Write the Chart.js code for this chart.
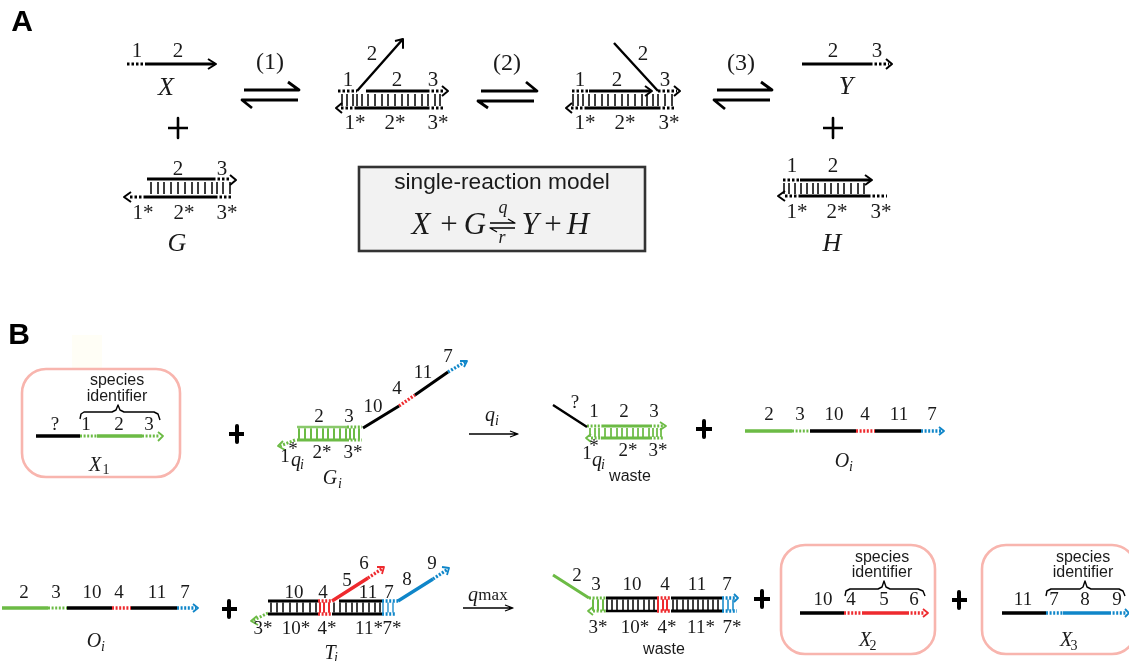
<!DOCTYPE html>
<html>
<head>
<meta charset="utf-8">
<title>Strand displacement</title>
<script src="https://cdn.jsdelivr.net/npm/chart.js@4"></script>
<style>
html, body { margin: 0; padding: 0; background: #fff; overflow: hidden; }
canvas { display: block; }
</style>
</head>
<body>
<canvas id="diagram" width="1129" height="661"></canvas>
<script>
const blackSolid = [
    // panel A
    [[145,64],[215,64]],
    [[147,179],[213,179]], [[145,197],[215,197]],
    [[366,91],[427,91]], [[357,108],[427,108]],
    [[589,91],[651,91]], [[587,108],[658,108]],
    [[802,64],[870,64]],
    [[800,180],[871,180]], [[800,196],[868,196]],
    // panel B duplexes
    [[363,428],[399,406]], [[415,395],[448,372]],
    [[268,601],[318,601]], [[339,601],[382,601]], [[268,614],[318,614]], [[332,614],[382,614]],
    [[606,598],[657,598]], [[671,598],[722,598]], [[671,611],[722,611]]
];
const blackThick = [
    [[36,436],[80,436]],
    [[810,431],[856,431]], [[875,431],[921,431]],
    [[67,608],[112,608]], [[131,608],[177,608]],
    [[800,613],[844,613]], [[1002,613],[1046,613]]
];
const blackHeads = [
    [[208,59],[216,64],[208,69]],
    [[230,175],[236,180],[230,185]], [[131,192],[124,197],[131,202]],
    [[395,41],[403,39],[403,48]],
    [[442,86],[448,91],[442,96]], [[342,103],[336,108],[342,113]],
    [[645,86],[652,91],[645,96]],
    [[674,86],[680,91],[674,96]], [[572,103],[566,108],[572,113]],
    [[886,59],[892,64],[886,69]],
    [[865,175],[872,180],[865,185]], [[785,191],[778,196],[785,201]]
];
const blackThin = [
    [[357,91],[403,39]], [[614,43],[658,91]],
    [[553,405],[587,427]], [[606,611],[657,611]]
];
const blackDotted = [
    [[127,64],[145,64]],
    [[213,179],[231,179]], [[130,197],[145,197]], [[215,197],[233,197]],
    [[338,91],[357,91]], [[427,91],[445,91]], [[341,108],[357,108]], [[427,108],[443,108]],
    [[572,91],[589,91]], [[658,91],[677,91]], [[571,108],[587,108]], [[658,108],[675,108]],
    [[870,64],[889,64]],
    [[783,180],[800,180]], [[785,196],[800,196]], [[868,196],[887,196]]
];
const greenSolid = [
    [[297,440],[347,440]],
    [[602,426],[650,426]], [[601,438],[650,438]],
    [[553,575],[589,598]]
];
const greenThick = [
    [[97,436],[142,436]], [[745,431],[792,431]], [[2,608],[48,608]]
];
const greenHeads = [
    [[158,432],[163,436],[158,441]],
    [[283,441],[278,446],[285,450]], [[257,616],[251,621],[258,625]],
    [[660,422],[666,426],[660,430]], [[591,434],[586,438],[591,442]],
    [[593,607],[588,611],[593,615]]
];
const greenLight = [ [[297,427],[347,427]] ];
const greenDotted = [
    [[80,436],[97,436]], [[142,436],[160,436]],
    [[347,427],[362,427]], [[347,440],[362,440]], [[295,440],[280,446]],
    [[587,426],[602,426]], [[650,426],[664,426]], [[591,438],[602,438]], [[650,438],[663,438]],
    [[792,431],[810,431]],
    [[48,608],[67,608]],
    [[268,613],[252,621]],
    [[589,598],[606,598]], [[593,611],[606,611]]
];
const redSolid = [ [[332,601],[368,578]], [[863,613],[907,613]] ];
const redHeads = [ [[923,609],[928,613],[923,617]], [[377,567],[384,567],[382,574]] ];
const redDotted = [
    [[399,406],[415,395]],
    [[856,431],[875,431]], [[112,608],[131,608]],
    [[318,601],[332,601]], [[318,614],[332,614]], [[368,578],[383,568]],
    [[657,598],[671,598]], [[657,611],[671,611]],
    [[844,613],[863,613]], [[907,613],[925,613]]
];
const blueSolid = [ [[398,601],[433,579]], [[1063,613],[1109,613]] ];
const blueHeads = [
    [[460,361],[467,361],[464,367]],
    [[939,427],[944,431],[939,435]], [[193,604],[198,608],[193,612]],
    [[442,567],[449,568],[447,575]],
    [[734,594],[738,598],[734,602]],
    [[1125,609],[1129,613],[1125,617]]
];
const blueDotted = [
    [[448,372],[465,362]],
    [[921,431],[941,431]], [[177,608],[196,608]],
    [[382,601],[398,601]], [[382,614],[395,614]], [[433,579],[448,569]],
    [[722,598],[736,598]], [[722,611],[737,611]],
    [[1046,613],[1063,613]], [[1109,613],[1127,613]]
];

// exchange arrows and plain reaction arrows
const equilibriumArrows = [
    [[244,90],[299,90],[288,82]], [[298,100],[242,100],[252,108]],
    [[481,91],[537,91],[526,82]], [[534,101],[478,101],[488,108]],
    [[717,90],[772,90],[761,82]], [[770,100],[714,100],[725,109]]
];
const thinArrows = [
    [[469,434],[518,434]], [[510,431],[518,434],[510,437]],
    [[463,608],[513,608]], [[505,605],[513,608],[505,611]],
    [[490,223],[515,223],[508,219]], [[515,228],[490,228],[497,232]]
];
const plusThin = [
    [[168,128],[188,128]], [[178,118],[178,138]],
    [[823,128],[843,128]], [[833,118],[833,138]]
];
const plusBold = [
    [[229,434],[244,434]], [[237,426],[237,442]],
    [[696,429],[712,429]], [[704,421],[704,437]],
    [[222,609],[237,609]], [[229,601],[229,617]],
    [[754,599],[770,599]], [[762,591],[762,607]],
    [[952,600],[967,600]], [[959,592],[959,608]]
];
const braces = [
    [[80,419],[81,414],[84,412],[112,412],[116,410],[118,405],[120,410],[124,412],[154,412],[158,414],[160,420]],
    [[845,596],[846,591],[850,589],[878,589],[882,587],[884,581],[886,587],[890,589],[918,589],[923,591],[925,596]],
    [[1046,596],[1047,591],[1051,589],[1080,589],[1083,587],[1085,581],[1087,587],[1091,589],[1119,589],[1123,591],[1125,596]]
];

// base-pair rungs: x positions per duplex
const rungsG = [151,158,164,171,178,185,192,198,205,212,217,223,230];
const rungsInter1 = [342,347,353,357,362,368,375,382,388,395,402,408,415,422,428,435,440];
const rungsInter2 = [573,578,583,589,595,602,608,615,622,628,635,642,647,653,658,665,672];
const rungsH = [784,789,795,801,807,813,818,825,831,838,844,851,858,864];
const rungsGi = [299,305,311,317,323,328,334,340,346,350,354,359];
const rungsWaste1 = [590,595,599,605,611,617,622,627,633,638,643,649,653,657,661];
const rungsTiBlack = [271,277,283,290,297,303,310,316,334,340,346,352,357,363,369,375,380];
const rungsTiRed = [320,324,329];
const rungsTiBlue = [383,388,393];
const rungsWaste2Green = [593,598,603];
const rungsWaste2Black = [607,612,617,623,628,633,638,644,649,654,673,677,683,688,693,698,703,708,713,718];
const rungsWaste2Red = [658,663,667];
const rungsWaste2Blue = [723,728,733];

// labels: [text, x, y]
const panelLetters = [['A',22,22],['B',19,335]];
const numbersLarge = [
    ['1',137,50],['2',178,50],['2',178,168],['3',222,168],['1*',143,212],['2*',184,212],['3*',227,212],
    ['2',372,53],['1',348,79],['2',397,79],['3',433,79],['1*',355,122],['2*',395,122],['3*',438,122],
    ['2',643,53],['1',580,79],['2',617,79],['3',665,79],['1*',585,122],['2*',625,122],['3*',669,122],
    ['2',833,50],['3',877,50],['1',792,165],['2',833,165],['1*',797,211],['2*',837,211],['3*',881,211]
];
const stepLabels = [['(1)',270,62],['(2)',507,63],['(3)',741,63]];
const italicLarge = [['X',166,87],['G',177,243],['Y',846,86],['H',832,243]];
const equationItalic = [['X',421,225],['G',475,225],['Y',530,225],['H',578,225]];
const equationPlus = [['+',449,225],['+',553,225]];
const rateLetters = [['q',503,208],['r',502,238]];
const numbersSmall = [
    ['?',55,424],['1',86,424],['2',119,424],['3',149,424],
    ['2',319,416],['3',349,416],['10',373,406],['4',397,388],['11',423,372],['7',448,356],
    ['1',285,456],['*',293,449],['2*',322,452],['3*',353,452],
    ['?',575,402],['1',594,411],['2',624,411],['3',654,411],
    ['1',587,453],['*',594,446],['2*',628,450],['3*',658,450],
    ['2',769,414],['3',800,414],['10',834,414],['4',865,414],['11',899,414],['7',932,414],
    ['2',24,592],['3',56,592],['10',92,592],['4',119,592],['11',157,592],['7',185,592],
    ['10',294,592],['4',323,592],['5',347,580],['6',364,563],['11',368,592],['7',389,592],['8',407,579],['9',432,563],
    ['3*',263,628],['10*',296,628],['4*',327,628],['11*',369,628],['7*',392,628],
    ['2',577,575],['3',596,584],['10',632,584],['4',665,584],['11',697,584],['7',727,584],
    ['3*',598,627],['10*',635,627],['4*',667,627],['11*',701,627],['7*',732,627],
    ['10',823,599],['4',851,599],['5',884,599],['6',914,599],
    ['11',1023,599],['7',1054,599],['8',1085,599],['9',1117,599]
];
const italicSmall = [
    ['X',95,465],['G',330,478],['O',842,461],['O',94,641],['T',330,653],['X',865,640],['X',1066,640],
    ['q',490,415],['q',473,595],['q',296,460],['q',597,460]
];
const subscriptsItalic = [['i',340,484],['i',851,467],['i',103,647],['i',336,658],['i',497,421],['i',302,465],['i',603,465]];
const subscriptsPlain = [['1',106,470],['2',873,646],['3',1074,646]];
const maxLabel = [['max',493,596]];
const sansLabels = [
    ['species',117,380],['identifier',117,396],
    ['waste',630,476],['waste',664,649],
    ['species',882,557],['identifier',882,572],
    ['species',1083,557],['identifier',1083,572]
];
const modelTitle = [['single-reaction model',502,181]];

// boxes: [left, top, right, bottom]
const identifierBoxes = [[22,369,180,477],[781,545,935,654],[982,545,1136,654]];
const modelBox = [359,167,645,251];
const paleSpot = [72,335,102,368];

const INK = '#1a1a1a';
const BLACK = '#000000';
const GREEN = '#6cbb45';
const RED = '#ee2a2e';
const BLUE = '#0f86c9';
const DOT = [2.5, 2];
const DOT_B = [2, 1.6];
const SERIF = '"Liberation Serif", serif';
const SANS = '"Liberation Sans", sans-serif';

function toPoints(lines) {
    const pts = [];
    lines.forEach(function(line) {
        line.forEach(function(p) { pts.push({ x: p[0], y: p[1] }); });
        pts.push({ x: line[line.length - 1][0], y: null });
    });
    return pts;
}

function rungLines(xs, top, bottom) {
    return xs.map(function(x) { return [[x, top], [x, bottom]]; });
}

function strokeSet(lines, color, width, dash) {
    return {
        data: toPoints(lines),
        borderColor: color,
        borderWidth: width,
        borderDash: dash || [],
        borderJoinStyle: 'round',
        showLine: true,
        spanGaps: false,
        pointRadius: 0,
        clip: false
    };
}

const datasets = [
    strokeSet(blackSolid, BLACK, 3),
    strokeSet(blackThick, BLACK, 3.7),
    strokeSet(blackThin, BLACK, 2.4),
    strokeSet(blackDotted, BLACK, 3, DOT),
    strokeSet(blackHeads, BLACK, 2),
    strokeSet(greenSolid, GREEN, 3),
    strokeSet(greenThick, GREEN, 3.7),
    strokeSet(greenLight, '#8ac96c', 2.4),
    strokeSet(greenDotted, GREEN, 3, DOT_B),
    strokeSet(greenHeads, GREEN, 1.8),
    strokeSet(redSolid, RED, 3.3),
    strokeSet(redDotted, RED, 3.3, DOT_B),
    strokeSet(redHeads, RED, 1.8),
    strokeSet(blueSolid, BLUE, 3.3),
    strokeSet(blueDotted, BLUE, 3.3, DOT_B),
    strokeSet(blueHeads, BLUE, 1.8),
    strokeSet(equilibriumArrows, BLACK, 2.8),
    strokeSet(thinArrows, BLACK, 1.3),
    strokeSet(plusThin, BLACK, 2.6),
    strokeSet(plusBold, BLACK, 4),
    strokeSet(braces, BLACK, 1.4),
    strokeSet(rungLines(rungsG, 182, 194), '#222222', 1),
    strokeSet(rungLines(rungsInter1, 94, 106), '#222222', 1),
    strokeSet(rungLines(rungsInter2, 94, 106), '#222222', 1),
    strokeSet(rungLines(rungsH, 183, 194), '#222222', 1),
    strokeSet(rungLines(rungsGi, 429, 439), GREEN, 2),
    strokeSet(rungLines(rungsWaste1, 428, 437), GREEN, 1),
    strokeSet(rungLines(rungsTiBlack, 603, 612), BLACK, 1.5),
    strokeSet(rungLines(rungsTiRed, 603, 612), RED, 2),
    strokeSet(rungLines(rungsTiBlue, 603, 612), BLUE, 1.3),
    strokeSet(rungLines(rungsWaste2Green, 600, 610), GREEN, 2),
    strokeSet(rungLines(rungsWaste2Black, 600, 610), BLACK, 1.5),
    strokeSet(rungLines(rungsWaste2Red, 600, 610), RED, 2),
    strokeSet(rungLines(rungsWaste2Blue, 600, 610), BLUE, 1.5)
];

const boxesPlugin = {
    id: 'boxes',
    beforeDatasetsDraw: function(chart) {
        const c = chart.ctx, sx = chart.scales.x, sy = chart.scales.y;
        const rect = function(b) {
            const l = sx.getPixelForValue(b[0]), t = sy.getPixelForValue(b[1]);
            return [l, t, sx.getPixelForValue(b[2]) - l, sy.getPixelForValue(b[3]) - t];
        };
        c.save();
        c.fillStyle = '#fffef6';
        c.fillRect.apply(c, rect(paleSpot));
        c.strokeStyle = '#f8b5ae';
        c.lineWidth = 2.6;
        identifierBoxes.forEach(function(b) {
            const r = rect(b);
            c.beginPath();
            c.roundRect(r[0], r[1], r[2], r[3], 24);
            c.stroke();
        });
        const m = rect(modelBox);
        c.fillStyle = '#f2f2f2';
        c.fillRect(m[0], m[1], m[2], m[3]);
        c.strokeStyle = '#333333';
        c.lineWidth = 2.6;
        c.strokeRect(m[0], m[1], m[2], m[3]);
        c.restore();
    }
};

// set, font, colour, baseline nudge
const textSets = [
    [panelLetters, 'bold 30px ' + SANS, BLACK, 1],
    [numbersLarge, '21px ' + SERIF, INK, 1],
    [stepLabels, '24px ' + SERIF, INK, 1],
    [italicLarge, 'italic 26px ' + SERIF, INK, 1],
    [equationItalic, 'italic 31px ' + SERIF, INK, 1],
    [equationPlus, '31px ' + SERIF, INK, 1],
    [rateLetters, 'italic 18px ' + SERIF, INK, 0],
    [numbersSmall, '19px ' + SERIF, INK, 1],
    [italicSmall, 'italic 20px ' + SERIF, INK, 1],
    [subscriptsItalic, 'italic 14px ' + SERIF, INK, 0],
    [subscriptsPlain, '14px ' + SERIF, INK, 0],
    [maxLabel, '17px ' + SERIF, INK, 0],
    [sansLabels, '16px ' + SANS, INK, 1],
    [modelTitle, '22.7px ' + SANS, INK, 1.5]
];

const textPlugin = {
    id: 'labels',
    afterDatasetsDraw: function(chart) {
        const c = chart.ctx, sx = chart.scales.x, sy = chart.scales.y;
        c.save();
        c.textAlign = 'center';
        c.textBaseline = 'middle';
        textSets.forEach(function(set) {
            c.font = set[1];
            c.fillStyle = set[2];
            set[0].forEach(function(t) {
                c.fillText(t[0], sx.getPixelForValue(t[1]), sy.getPixelForValue(t[2]) + set[3]);
            });
        });
        c.restore();
    }
};

new Chart(document.getElementById('diagram').getContext('2d'), {
    type: 'scatter',
    data: { datasets: datasets },
    plugins: [boxesPlugin, textPlugin],
    options: {
        responsive: false,
        animation: false,
        devicePixelRatio: 1,
        events: [],
        layout: { padding: 0 },
        plugins: { legend: { display: false }, tooltip: { enabled: false } },
        scales: {
            x: { type: 'linear', min: 0, max: 1129, display: false },
            y: { type: 'linear', min: 0, max: 661, reverse: true, display: false }
        }
    }
});
</script>
</body>
</html>
